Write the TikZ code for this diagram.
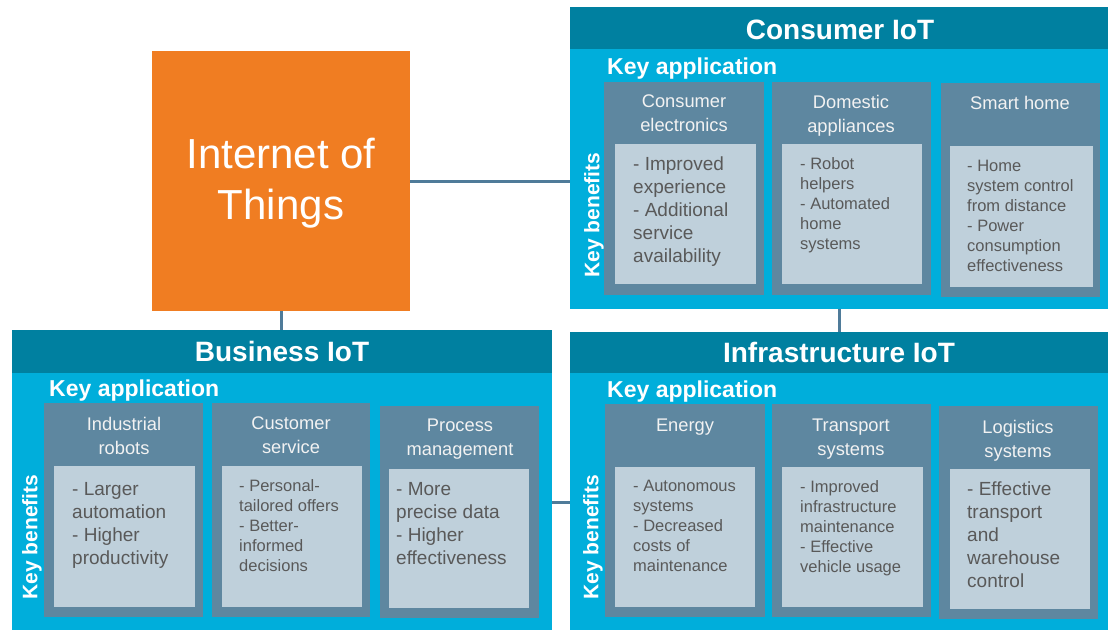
\documentclass[tikz,border=0pt]{standalone}
\usepackage{fontspec}
\setmainfont{Liberation Sans}
\definecolor{hdrc}{HTML}{0080A0}
\definecolor{bodyc}{HTML}{00AEDB}
\definecolor{colc}{HTML}{5E87A0}
\definecolor{innc}{HTML}{BFD0DB}
\definecolor{orangec}{HTML}{F07D22}
\definecolor{connc}{HTML}{4F7B99}
\definecolor{txtc}{HTML}{595959}
\definecolor{titc}{HTML}{F2F2F2}
\tikzset{
  box/.style={rectangle, inner sep=0pt, outer sep=0pt, anchor=north west},
  panel/.style={box, fill=bodyc},
  hdr/.style={box, fill=hdrc, text=white, font=\fontsize{28}{32}\selectfont\bfseries},
  colbox/.style={box, fill=colc},
  inbox/.style={box, fill=innc},
  keyapp/.style={inner sep=0pt, anchor=base west, text=white, font=\fontsize{23}{26}\selectfont\bfseries},
  keyben/.style={inner sep=0pt, rotate=90, text=white, font=\fontsize{21}{24}\selectfont\bfseries},
  coltitle/.style={inner sep=0pt, anchor=north, align=center, text=titc, font=\fontsize{18.3}{24}\selectfont},
  smalltext/.style={inner sep=0pt, anchor=north west, align=left, text=txtc, font=\fontsize{16.5}{20}\selectfont},
  bigtext/.style={inner sep=0pt, anchor=north west, align=left, text=txtc, font=\fontsize{19}{23}\selectfont},
  conn/.style={draw=connc, line width=3pt},
}
\begin{document}
\begin{tikzpicture}[x=1pt, y=-1pt]
\useasboundingbox (0,0) rectangle (1108,630);
\fill[white] (0,0) rectangle (1108,630);

% Internet of Things
\node[box, fill=orangec, minimum width=258pt, minimum height=260pt] (iot) at (152,51) {};
\node[inner sep=0pt, align=center, text=white, font=\fontsize{42}{51}\selectfont] (iottext) at (281,183) {Internet of\\Things};

% ---------- Consumer IoT ----------
\node[panel, minimum width=538pt, minimum height=302pt] (consumer) at (570,7) {};
\node[box, fill=hdrc, minimum width=538pt, minimum height=42pt] (consumerhdr) at (570,7) {};
\node[inner sep=0pt, text=white, font=\fontsize{28}{32}\selectfont\bfseries] (consumerhdrt) at (840,30) {Consumer IoT};
\node[keyapp] (consumerka) at (607,74) {Key application};
\node[keyben] (consumerkb) at (594,215) {Key benefits};

\node[colbox, minimum width=160pt, minimum height=213pt] (c1) at (604,82) {};
\node[colbox, minimum width=159pt, minimum height=213pt] (c2) at (772,82) {};
\node[colbox, minimum width=159pt, minimum height=214pt] (c3) at (941,83) {};
\node[coltitle] (c1t) at (684,95) {Consumer\\electronics};
\node[coltitle] (c2t) at (851,95) {Domestic\\appliances};
\node[coltitle] (c3t) at (1020,96) {Smart home};
\node[inbox, minimum width=141pt, minimum height=140pt] (c1i) at (615,144) {};
\node[inbox, minimum width=140pt, minimum height=140pt] (c2i) at (782,144) {};
\node[inbox, minimum width=143pt, minimum height=141pt] (c3i) at (950,146) {};
\node[bigtext] (c1x) at (633,157) {- Improved\\experience\\- Additional\\service\\availability};
\node[smalltext] (c2x) at (800,157) {- Robot\\helpers\\- Automated\\home\\systems};
\node[smalltext] (c3x) at (967,160) {- Home\\system control\\from distance\\- Power\\consumption\\effectiveness};

% ---------- Business IoT ----------
\node[panel, minimum width=540pt, minimum height=300pt] (business) at (12,330) {};
\node[hdr, minimum width=540pt, minimum height=43pt] (businesshdr) at (12,330) {Business IoT};
\node[keyapp] (businesska) at (49,396) {Key application};
\node[keyben] (businesskb) at (32,537) {Key benefits};

\node[colbox, minimum width=159pt, minimum height=214pt] (b1) at (44,403) {};
\node[colbox, minimum width=158pt, minimum height=214pt] (b2) at (212,403) {};
\node[colbox, minimum width=159pt, minimum height=212pt] (b3) at (380,406) {};
\node[coltitle] (b1t) at (124,417) {Industrial\\robots};
\node[coltitle] (b2t) at (291,417) {Customer\\service};
\node[coltitle] (b3t) at (460,419) {Process\\management};
\node[inbox, minimum width=141pt, minimum height=141pt] (b1i) at (54,466) {};
\node[inbox, minimum width=140pt, minimum height=141pt] (b2i) at (222,466) {};
\node[inbox, minimum width=140pt, minimum height=139pt] (b3i) at (389,469) {};
\node[bigtext] (b1x) at (72,482) {- Larger\\automation\\- Higher\\productivity};
\node[smalltext] (b2x) at (239,479) {- Personal-\\tailored offers\\- Better-\\informed\\decisions};
\node[bigtext] (b3x) at (396,482) {- More\\precise data\\- Higher\\effectiveness};

% ---------- Infrastructure IoT ----------
\node[panel, minimum width=538pt, minimum height=298pt] (infra) at (570,332) {};
\node[hdr, minimum width=538pt, minimum height=41pt] (infrahdr) at (570,332) {Infrastructure IoT};
\node[keyapp] (infraka) at (607,397) {Key application};
\node[keyben] (infrakb) at (593,537) {Key benefits};

\node[colbox, minimum width=160pt, minimum height=213pt] (i1) at (605,404) {};
\node[colbox, minimum width=159pt, minimum height=213pt] (i2) at (772,404) {};
\node[colbox, minimum width=159pt, minimum height=213pt] (i3) at (939,406) {};
\node[coltitle] (i1t) at (685,419) {Energy};
\node[coltitle] (i2t) at (851,419) {Transport\\systems};
\node[coltitle] (i3t) at (1018,420) {Logistics\\systems};
\node[inbox, minimum width=140pt, minimum height=140pt] (i1i) at (615,467) {};
\node[inbox, minimum width=141pt, minimum height=140pt] (i2i) at (782,467) {};
\node[inbox, minimum width=140pt, minimum height=140pt] (i3i) at (950,469) {};
\node[smalltext] (i1x) at (633,480) {- Autonomous\\systems\\- Decreased\\costs of\\maintenance};
\node[smalltext] (i2x) at (800,480) {- Improved\\infrastructure\\maintenance\\- Effective\\vehicle usage};
\node[bigtext] (i3x) at (967,482) {- Effective\\transport\\and\\warehouse\\control};

% ---------- connectors ----------
\draw[conn] (iot.east) -- (iot.east -| consumer.west);
\draw[conn] (iot.south) -- (iot.south |- business.north);
\draw[conn] (consumer.south) -- (consumer.south |- infra.north);
\coordinate (bi) at (0,502);
\draw[conn] (business.east |- bi) -- (infra.west |- bi);
\end{tikzpicture}
\end{document}
